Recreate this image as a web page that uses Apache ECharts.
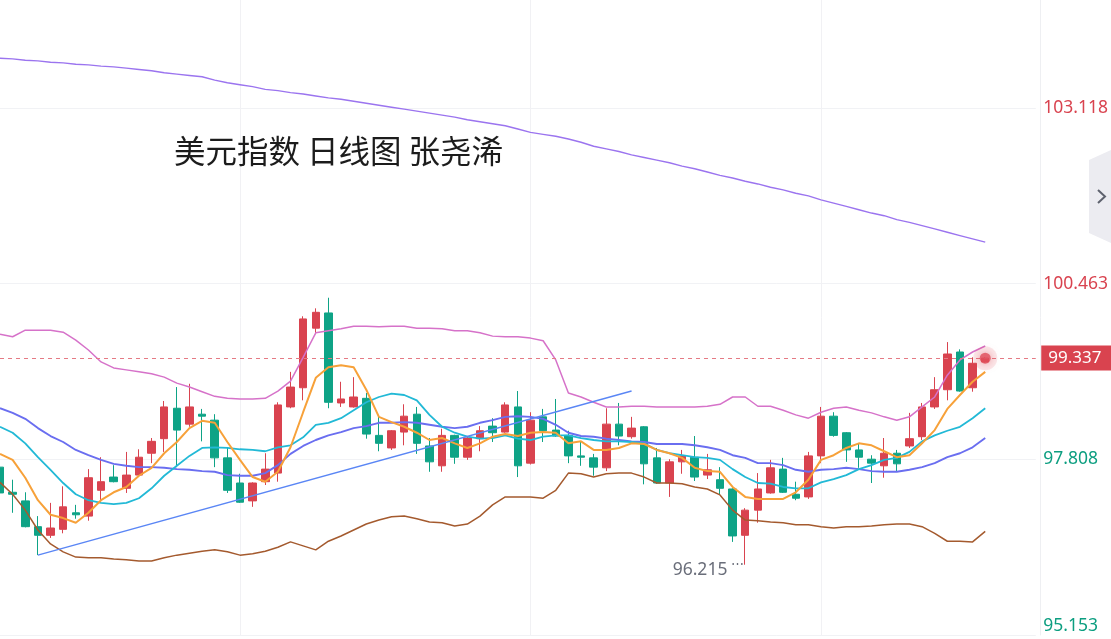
<!DOCTYPE html>
<html><head><meta charset="utf-8">
<script src="https://cdn.jsdelivr.net/npm/echarts@6.0.0/dist/echarts.min.js"></script>
<style>html,body{margin:0;padding:0;background:#fff;}#c{width:1111px;height:639px;}</style>
</head><body><div id="c"></div>
<script>
const categories = ['2025-06-26','2025-06-27','2025-06-30','2025-07-01','2025-07-02','2025-07-03','2025-07-04','2025-07-07','2025-07-08','2025-07-09','2025-07-10','2025-07-11','2025-07-14','2025-07-15','2025-07-16','2025-07-17','2025-07-18','2025-07-21','2025-07-22','2025-07-23','2025-07-24','2025-07-25','2025-07-28','2025-07-29','2025-07-30','2025-07-31','2025-08-01','2025-08-04','2025-08-05','2025-08-06','2025-08-07','2025-08-08','2025-08-11','2025-08-12','2025-08-13','2025-08-14','2025-08-15','2025-08-18','2025-08-19','2025-08-20','2025-08-21','2025-08-22','2025-08-25','2025-08-26','2025-08-27','2025-08-28','2025-08-29','2025-09-01','2025-09-02','2025-09-03','2025-09-04','2025-09-05','2025-09-08','2025-09-09','2025-09-10','2025-09-11','2025-09-12','2025-09-15','2025-09-16','2025-09-17','2025-09-18','2025-09-19','2025-09-22','2025-09-23','2025-09-24','2025-09-25','2025-09-26','2025-09-29','2025-09-30','2025-10-01','2025-10-02','2025-10-03','2025-10-06','2025-10-07','2025-10-08','2025-10-09','2025-10-10','2025-10-13','2025-10-14','2025-10-15','2025-10-16','2025-10-17','2025-10-20'];

const opens  = [97.69,97.31,97.18,96.79,96.66,96.75,97.00,96.95,97.34,97.54,97.37,97.57,97.90,98.12,98.58,98.34,98.49,98.40,97.83,97.45,97.18,97.47,97.60,98.60,98.89,99.79,100.02,98.66,98.60,98.73,98.17,97.98,98.22,98.49,98.01,97.71,98.17,97.84,98.12,98.31,98.22,98.60,97.75,98.45,98.25,98.17,97.86,97.83,97.68,98.34,98.15,98.30,97.83,97.45,97.77,97.84,97.57,97.50,97.36,96.66,97.04,97.30,97.66,97.28,97.24,97.86,98.46,98.21,97.95,97.81,97.71,97.90,98.01,98.15,98.60,98.86,99.43,98.89,99.28];
const closes = [97.30,97.28,96.79,96.66,96.77,97.09,96.97,97.53,97.47,97.47,97.57,97.84,98.08,98.60,98.25,98.60,98.46,97.83,97.34,97.16,97.45,97.66,98.63,98.90,99.93,100.03,98.67,98.72,98.75,98.19,98.05,98.24,98.46,98.05,97.77,98.17,97.84,98.13,98.24,98.21,98.63,97.71,98.40,98.24,98.16,97.86,97.84,97.69,98.34,98.16,98.28,97.74,97.45,97.77,97.86,97.54,97.65,97.37,96.65,97.04,97.36,97.68,97.31,97.22,97.86,98.46,98.17,97.95,97.84,97.75,97.90,97.74,98.12,98.60,98.86,99.40,98.84,99.26,99.337];
const lows   = [97.19,97.00,96.78,96.36,96.62,96.69,96.91,96.88,97.16,97.46,97.30,97.54,97.75,97.92,97.69,98.30,98.08,97.69,97.30,97.15,97.09,97.42,97.47,98.58,98.70,99.70,98.58,98.60,98.59,98.12,97.93,97.95,98.02,97.89,97.62,97.62,97.74,97.80,97.93,98.07,98.21,97.54,97.73,98.07,98.15,97.75,97.71,97.56,97.63,98.02,98.12,97.43,97.44,97.24,97.59,97.48,97.51,97.27,96.56,96.215,96.85,97.29,97.30,97.19,97.21,97.75,98.15,97.77,97.68,97.45,97.53,97.62,97.98,98.10,98.57,98.70,98.83,98.83,99.27];
const highs  = [97.80,97.50,97.31,96.95,97.15,97.40,97.12,97.66,97.84,97.72,97.92,97.96,98.13,98.69,98.90,98.95,98.57,98.49,97.98,97.59,97.46,97.90,98.67,99.13,99.97,100.09,100.25,98.98,99.05,98.81,98.45,98.25,98.64,98.60,98.13,98.27,98.18,98.16,98.31,98.43,98.67,98.84,98.52,98.57,98.72,98.24,98.07,97.89,98.58,98.66,98.45,98.31,97.98,97.81,97.95,98.16,97.89,97.69,97.37,97.07,97.60,97.80,97.83,97.47,97.92,98.60,98.52,98.22,98.05,97.87,98.13,97.95,98.51,98.66,99.05,99.58,99.47,99.35,99.35];

const ma5  = [97.89,97.80,97.53,97.19,96.97,96.92,96.85,97.00,97.19,97.31,97.39,97.56,97.68,97.90,98.07,98.28,98.39,98.36,98.07,97.80,97.54,97.47,97.62,97.99,98.52,99.04,99.20,99.23,99.20,98.86,98.45,98.37,98.30,98.21,98.10,98.13,98.05,97.98,98.05,98.15,98.19,98.16,98.21,98.22,98.21,98.05,98.08,97.95,97.95,97.98,98.05,98.04,97.95,97.90,97.83,97.68,97.63,97.62,97.39,97.24,97.21,97.21,97.21,97.31,97.50,97.80,97.87,97.98,98.05,98.02,97.93,97.84,97.87,98.05,98.25,98.57,98.78,98.98,99.13];
const ma10 = [98.30,98.21,98.05,97.84,97.65,97.45,97.28,97.19,97.15,97.13,97.15,97.22,97.37,97.56,97.71,97.86,97.98,97.99,97.98,97.96,97.95,97.93,97.99,98.02,98.14,98.33,98.36,98.43,98.55,98.67,98.75,98.80,98.78,98.70,98.48,98.30,98.21,98.15,98.12,98.13,98.17,98.12,98.10,98.15,98.17,98.17,98.13,98.10,98.08,98.08,98.07,98.05,97.95,97.90,97.87,97.84,97.83,97.80,97.66,97.54,97.45,97.44,97.39,97.37,97.37,97.46,97.51,97.57,97.66,97.72,97.80,97.83,97.92,98.08,98.17,98.24,98.30,98.43,98.58];
const bollMid = [98.58,98.51,98.42,98.28,98.16,98.07,97.95,97.87,97.80,97.74,97.71,97.69,97.69,97.68,97.66,97.65,97.63,97.62,97.57,97.56,97.56,97.60,97.72,97.89,98.01,98.10,98.17,98.22,98.28,98.31,98.36,98.36,98.37,98.36,98.33,98.30,98.28,98.30,98.36,98.40,98.45,98.46,98.45,98.42,98.33,98.21,98.16,98.15,98.12,98.10,98.08,98.07,98.04,98.04,98.04,98.02,97.99,97.95,97.87,97.83,97.75,97.75,97.72,97.65,97.62,97.65,97.66,97.68,97.66,97.63,97.62,97.62,97.65,97.69,97.75,97.84,97.90,97.99,98.13];
const bollUp = [99.70,99.66,99.76,99.76,99.76,99.73,99.61,99.46,99.28,99.19,99.16,99.13,99.10,99.05,98.96,98.90,98.83,98.76,98.73,98.72,98.72,98.73,98.84,98.99,99.35,99.72,99.75,99.78,99.82,99.82,99.81,99.82,99.82,99.79,99.79,99.78,99.75,99.75,99.72,99.67,99.66,99.66,99.64,99.60,99.31,98.81,98.75,98.67,98.60,98.60,98.61,98.61,98.60,98.60,98.60,98.60,98.61,98.64,98.75,98.75,98.61,98.61,98.55,98.48,98.43,98.52,98.58,98.60,98.55,98.51,98.45,98.40,98.45,98.60,98.75,99.08,99.31,99.43,99.52];
const bollLow = [97.46,97.28,97.04,96.74,96.53,96.41,96.33,96.32,96.32,96.30,96.29,96.27,96.27,96.32,96.36,96.39,96.42,96.44,96.41,96.36,96.38,96.42,96.48,96.56,96.50,96.44,96.57,96.65,96.74,96.83,96.89,96.94,96.95,96.91,96.86,96.85,96.80,96.83,96.95,97.12,97.24,97.24,97.24,97.22,97.34,97.60,97.59,97.54,97.59,97.60,97.60,97.54,97.45,97.45,97.44,97.39,97.36,97.27,97.04,96.89,96.88,96.86,96.85,96.82,96.82,96.79,96.77,96.79,96.79,96.80,96.82,96.83,96.83,96.79,96.69,96.57,96.57,96.56,96.72];
const ma200 = [103.87,103.86,103.84,103.83,103.81,103.80,103.78,103.77,103.75,103.74,103.72,103.70,103.68,103.65,103.63,103.61,103.59,103.54,103.50,103.47,103.44,103.40,103.38,103.35,103.33,103.30,103.27,103.25,103.22,103.19,103.16,103.13,103.10,103.07,103.04,103.01,102.98,102.94,102.91,102.88,102.85,102.80,102.75,102.72,102.69,102.65,102.60,102.54,102.50,102.46,102.41,102.37,102.33,102.29,102.24,102.20,102.15,102.10,102.06,102.01,101.97,101.92,101.88,101.83,101.79,101.73,101.68,101.63,101.58,101.53,101.49,101.43,101.39,101.34,101.29,101.24,101.19,101.14,101.09];

const yTicks = [95.153, 97.808, 100.463, 103.118];
const yMax = 104.75;
const trendFrom = { idx: 3, value: 96.36 };
const trendTo = { idx: 50, value: 98.84 };
const gridDays = [19, 42, 65];

const RED = '#d9434f', GREEN = '#0ea386';
const RED_TXT = '#d9434f', GREEN_TXT = '#0c9e80';

const candleData = categories.map((c, i) => i < opens.length ? [opens[i], closes[i], lows[i], highs[i]] : '-');
const lastIdx = closes.length - 1;
const lastPrice = closes[lastIdx];
const lowVal = Math.min(...lows);
const lowIdx = lows.indexOf(lowVal);

function lineSeries(name, data, color, width) {
  return { name, type: 'line', data, symbol: 'none', smooth: false, silent: true,
    lineStyle: { color, width }, itemStyle: { color }, z: 3 };
}

const chart = echarts.init(document.getElementById('c'), null, { renderer: 'canvas' });
chart.setOption({
  animation: false,
  backgroundColor: '#ffffff',
  title: {
    text: '美元指数 日线图 张尧浠', left: 174, top: 135, padding: 0,
    textStyle: { fontSize: 31.5, fontWeight: 'normal', color: '#1c1c1c', fontFamily: 'Noto Sans CJK SC' }
  },
  grid: { left: -3.1, right: 73.5, top: 0, bottom: 4 },
  xAxis: {
    type: 'category', data: categories, boundaryGap: false,
    axisLine: { show: false }, axisTick: { show: false }, axisLabel: { show: false },
    splitLine: { show: true, interval: (i) => gridDays.includes(i), lineStyle: { color: '#f1f1f4', width: 1 } }
  },
  yAxis: {
    type: 'value', position: 'right', offset: 4.5,
    min: yTicks[0], max: yMax, interval: yTicks[1] - yTicks[0],
    axisLine: { show: true, lineStyle: { color: '#eeeff2' } },
    axisTick: { show: false },
    splitLine: { show: true, showMaxLine: false, lineStyle: { color: '#f1f2f5' } },
    axisLabel: {
      margin: 3, fontSize: 17.5, fontFamily: 'Noto Sans', showMaxLabel: false,
      verticalAlignMinLabel: 'bottom',
      formatter: (v) => v.toFixed(3),
      color: (v) => (v > lastPrice ? RED_TXT : GREEN_TXT)
    }
  },
  series: [
    {
      name: 'K', type: 'candlestick', data: candleData, barWidth: 8, z: 2,
      itemStyle: { color: RED, color0: GREEN, borderColor: RED, borderColor0: GREEN, borderWidth: 1 },
      markLine: {
        silent: true, symbol: ['none', 'none'], animation: false,
        lineStyle: { color: '#5a86f5', width: 1.4, type: 'solid' },
        label: { show: false },
        data: [[{ coord: [categories[trendFrom.idx], trendFrom.value] }, { coord: [categories[trendTo.idx], trendTo.value] }]]
      },
      markPoint: {
        silent: true, symbol: 'circle', symbolSize: 1, itemStyle: { color: 'rgba(0,0,0,0)' },
        data: [{ coord: [categories[lowIdx], lowVal], value: lowVal }],
        label: {
          show: true, position: 'left', distance: 1, offset: [0, 5],
          formatter: (p) => '{v|' + p.value.toFixed(3) + '} {d|⋯}',
          rich: {
            v: { fontSize: 17.5, color: '#6a6e7a', fontFamily: 'Noto Sans' },
            d: { fontSize: 13, color: '#6a6e7a', padding: [0, 0, 10, 0] }
          }
        }
      }
    },
    lineSeries('MA200', ma200, '#9b74ef', 1.4),
    lineSeries('BOLL上轨', bollUp, '#d672c9', 1.5),
    lineSeries('BOLL下轨', bollLow, '#a45a2e', 1.5),
    lineSeries('MA20', bollMid, '#6a6ef0', 1.9),
    lineSeries('MA10', ma10, '#22b9d6', 1.8),
    lineSeries('MA5', ma5, '#f7a139', 2),
    {
      name: 'last', type: 'scatter', silent: true, z: 5,
      data: [
        { value: [categories[lastIdx], lastPrice], symbolSize: 24, itemStyle: { color: 'rgba(224,80,92,0.16)' } },
        { value: [categories[lastIdx], lastPrice], symbolSize: 11, itemStyle: { color: '#e04d5a', shadowBlur: 8, shadowColor: 'rgba(224,80,92,0.7)' } }
      ],
      markLine: {
        silent: true, symbol: ['none', 'none'], animation: false,
        lineStyle: { color: '#e57a84', width: 1, type: [4, 4] },
        label: {
          show: true, position: 'end', distance: 5.5,
          formatter: () => lastPrice.toFixed(3),
          color: '#ffffff', backgroundColor: '#d9434f', padding: [3, 10, 2, 7],
          fontSize: 17, fontFamily: 'Noto Sans', lineHeight: 20
        },
        data: [{ yAxis: lastPrice }]
      }
    }
  ],
  graphic: [
    { type: 'polygon', shape: { points: [[1089, 160], [1111, 150], [1111, 243], [1089, 233]] }, style: { fill: '#ececf1' }, silent: true },
    { type: 'polyline', shape: { points: [[1098, 190], [1105, 196.5], [1098, 203]] }, style: { stroke: '#5e626e', lineWidth: 2, fill: null }, silent: true }
  ]
});
</script></body></html>
